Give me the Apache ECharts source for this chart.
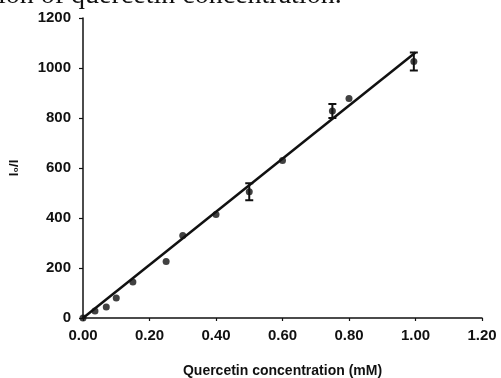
<!DOCTYPE html>
<html>
<head>
<meta charset="utf-8">
<script src="https://cdn.jsdelivr.net/npm/echarts@6/dist/echarts.min.js"></script>
<style>
html, body { margin: 0; padding: 0; background: #fff; }
#chart { width: 501px; height: 378px; }
</style>
</head>
<body>
<div id="chart"></div>
<script>
// measured points (quercetin mM, ratio)
var pointX = [0, 0.036, 0.07, 0.10, 0.15, 0.25, 0.30, 0.40, 0.60, 0.80];
var pointY = [0, 28, 44, 80, 144, 226, 330, 414, 630, 878];

// points that carry error bars
var errX = [0.50, 0.75, 0.995];
var errY = [505, 828, 1026];
var errSd = [34, 28, 36];

// fitted line
var fitX = [0, 1.0];
var fitY = [0, 1062];

var font = 'Liberation Sans, Arial, sans-serif';

var scatterData = pointX.map(function (x, i) { return [x, pointY[i]]; });
var errPoints = errX.map(function (x, i) { return [x, errY[i]]; });
var errData = errX.map(function (x, i) { return [x, errY[i] - errSd[i], errY[i] + errSd[i]]; });
var fitData = fitX.map(function (x, i) { return [x, fitY[i]]; });

var myChart = echarts.init(document.getElementById('chart'));

myChart.setOption({
    backgroundColor: '#fff',
    animation: false,
    graphic: [{
        type: 'text',
        left: -2,
        top: -18,
        style: {
            text: 'ion of quercetin concentration.',
            font: '28px "Liberation Serif", "Times New Roman", serif',
            fill: '#111'
        }
    }],
    grid: { left: 83, right: 19, top: 18, bottom: 60, outerBoundsMode: 'none' },
    xAxis: {
        type: 'value',
        min: 0,
        max: 1.2,
        interval: 0.2,
        name: 'Quercetin concentration (mM)',
        nameLocation: 'middle',
        nameGap: 46,
        nameTextStyle: { color: '#111', fontFamily: font, fontWeight: 'bold', fontSize: 14 },
        axisLine: { lineStyle: { color: '#111', width: 1.5 } },
        axisTick: { show: true, length: 3, lineStyle: { color: '#111', width: 1.2 } },
        axisLabel: {
            color: '#111', fontFamily: font, fontWeight: 'bold', fontSize: 15, margin: 10,
            formatter: function (v) { return v.toFixed(2); }
        },
        splitLine: { show: false }
    },
    yAxis: {
        type: 'value',
        min: 0,
        max: 1200,
        interval: 200,
        name: 'I\u2080/I',
        nameLocation: 'middle',
        nameRotate: 90,
        nameGap: 62,
        nameTextStyle: { color: '#111', fontFamily: font, fontWeight: 'bold', fontSize: 13 },
        axisLine: { show: true, lineStyle: { color: '#111', width: 1.5 } },
        axisTick: { show: true, length: 4, lineStyle: { color: '#111', width: 1.2 } },
        axisLabel: {
            color: '#111', fontFamily: font, fontWeight: 'bold', fontSize: 15, margin: 12,
            formatter: function (v) { return String(v); }
        },
        splitLine: { show: false }
    },
    series: [
        {
            type: 'line',
            data: fitData,
            showSymbol: false,
            lineStyle: { color: '#111', width: 2.5 },
            z: 2
        },
        {
            type: 'scatter',
            data: scatterData,
            symbol: 'circle',
            symbolSize: 7,
            itemStyle: { color: '#111' },
            z: 3
        },
        {
            type: 'scatter',
            data: errPoints,
            symbol: 'circle',
            symbolSize: 7,
            itemStyle: { color: '#111' },
            z: 3
        },
        {
            type: 'custom',
            data: errData,
            z: 4,
            renderItem: function (params, api) {
                var x = api.value(0);
                var lo = api.coord([x, api.value(1)]);
                var hi = api.coord([x, api.value(2)]);
                var w = 4;
                var st = { stroke: '#111', lineWidth: 2 };
                return {
                    type: 'group',
                    children: [
                        { type: 'line', shape: { x1: lo[0], y1: lo[1], x2: hi[0], y2: hi[1] }, style: st },
                        { type: 'line', shape: { x1: lo[0] - w, y1: lo[1], x2: lo[0] + w, y2: lo[1] }, style: st },
                        { type: 'line', shape: { x1: hi[0] - w, y1: hi[1], x2: hi[0] + w, y2: hi[1] }, style: st }
                    ]
                };
            }
        }
    ]
});
</script>
</body>
</html>
